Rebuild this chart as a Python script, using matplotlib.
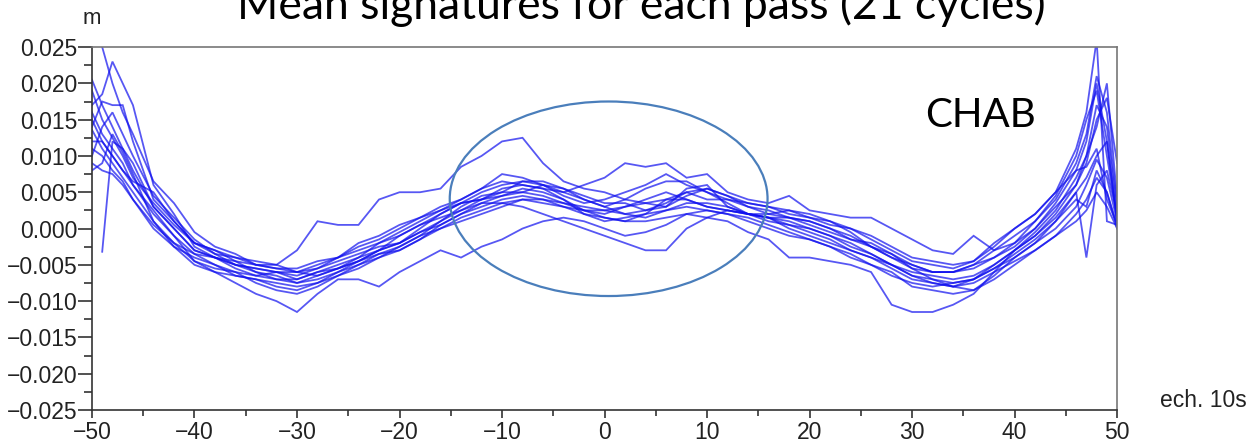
import numpy as np
import matplotlib
matplotlib.use("Agg")
import matplotlib.pyplot as plt
from matplotlib.patches import Ellipse
from matplotlib.ticker import MultipleLocator, FuncFormatter

# sample index (ech. 10s)
X = [-50, -49, -48, -47, -46,
     -44, -42, -40, -38, -36, -34, -32, -30, -28, -26, -24, -22, -20,
     -18, -16, -14, -12, -10, -8, -6, -4, -2, 0, 2, 4, 6,
     8, 10, 12, 14, 16, 18, 20, 22, 24, 26, 28, 30, 32,
     34, 36, 38, 40, 42, 44,
     46, 47, 48, 49, 50]

# mean signature of each pass, in mm
pass_01 = [20.5, 17, 14, 11, 8,
           3, 0, -3, -4, -5, -5.5, -6, -6.5, -5.5, -4, -3, -2, -1,
           0.5, 2, 3.5, 5, 6, 6.5, 6, 5, 4, 3, 2, 2.5, 3.5,
           5, 5.5, 4.5, 3, 2, 1.5, 1, 0, -1.5, -2.5, -4, -5, -6,
           -6, -5, -3, -1, 1, 4,
           9, 13, 21, 16, 3]
pass_02 = [13.6, 11, 9, 7, 5,
           1, -2, -4.5, -6, -7.5, -9, -10, -11.5, -9, -7, -7, -8, -6,
           -4.5, -3, -4, -2.5, -1.5, 0, 1, 1.5, 1, 0, -1, -0.5, 0.5,
           2, 2.5, 2, 1, 0, -1, -1.5, -2.5, -4, -5, -6.5, -7.5, -8,
           -7.5, -7, -5.5, -4, -2, 0,
           3, 6, 9.5, 7, 1]
pass_03 = [9, 8, 7.5, 6, 4,
           0.5, -2, -3.5, -4, -4.5, -5, -5, -3, 1, 0.5, 0.5, 4, 5,
           5, 5.5, 8.5, 10, 12, 12.5, 9, 6.5, 5.5, 5, 4, 3.5, 4,
           4, 3, 2.5, 2, 1.5, 1, 0, -1, -2.5, -3.5, -5, -6, -6.5,
           -7, -6.5, -5, -3, -1, 1.5,
           5, 7, 10, 12, 1]
pass_04 = [11, 10, 8, 6.5, 4,
           0, -2.5, -4, -5, -6, -6.5, -7, -7.5, -6.5, -5.5, -4, -3, -2,
           -0.5, 1, 2.5, 3.5, 3.5, 3, 2, 1, 0, -1, -2, -3, -3,
           0, 1.5, 2.5, 2, 1, 0.5, -0.5, -1.5, -3, -4, -5.5, -7, -7.5,
           -8, -7, -5.5, -3.5, -1.5, 1,
           4, 3, 8, 5, 0.5]
pass_05 = [16, 13, 11, 9, 6,
           2, -1, -3.5, -5, -6.5, -7, -8, -8.5, -7.5, -6, -5, -4, -3,
           -1.5, 0, 1.5, 2.5, 3.5, 4, 3.5, 3, 2, 1.5, 1, 1, 1.5,
           2, 1.5, 1, -0.5, -1.5, -4, -4, -4.5, -5, -6, -10.5, -11.5, -11.5,
           -10.5, -9, -6, -4.5, -3, -1,
           2, 4, 7, 5, 0]
pass_06 = [15, 12, 10, 8, 6.5,
           5, 1, -2, -3.5, -4, -5, -5.5, -6, -5, -4, -2.5, -1.5, 0,
           1.5, 3, 4, 5.5, 6.5, 6, 5.5, 5, 6, 7, 9, 8.5, 9,
           7, 7.5, 5, 4, 3.5, 4.5, 2.5, 2, 1.5, 1.5, 0, -1.5, -3,
           -3.5, -1, -3, -2, 0, 3,
           6, 10, 14, 20, 4]
pass_07 = [30, 25, 20, 16, 13,
           6.5, 3.5, -0.5, -2.5, -3.5, -5, -5.5, -5.5, -4.5, -4, -2, -1, 0.5,
           1.5, 2.5, 4, 5.5, 7.5, 7, 6, 4.5, 3.5, 4, 5, 6, 7.5,
           6, 5, 4, 3.5, 3, 2, 1.5, 0.5, 0, -1.5, -3, -4.5, -5,
           -5.5, -4.5, -2.5, 0, 2, 5,
           11, 16, 26, 1, 0.5]
pass_08 = [17, 18.5, 23, 20, 17,
           6, 2, -2.5, -4, -5, -5.5, -6, -6, -5.5, -4.5, -3.5, -2.5, -2,
           -0.5, 0.5, 2, 3, 4, 4.5, 4, 3.5, 3, 2.5, 3, 4, 5,
           4, 3, 2.5, 2, 1.5, 0.5, 0, -1, -2, -3.5, -5, -6.5, -7,
           -7.5, -7, -5, -3, -1, 2,
           6, 9, 15, 18, 9]
pass_09 = [14, 17.5, 17, 17, 12,
           4, 1, -2, -3, -4, -4.5, -5, -6, -6.5, -5.5, -4.5, -3.5, -3,
           -1.5, 0.5, 2, 3.5, 4.5, 5.5, 5, 4, 2.5, 2, 3, 3.5, 3,
           4.5, 5.5, 4.5, 3.5, 3, 2.5, 1.5, 1, 0, -1, -2.5, -4, -4.5,
           -5, -4.5, -2, 0, 2, 5,
           8, 12, 20, 12, 1]
pass_10 = [12, 12, 10, 8, 6,
           2.5, -1, -4.5, -5.5, -6, -7.5, -8.5, -9, -8, -6.5, -5, -3.5, -2.5,
           -1, 1, 3, 4.5, 5, 5, 4.5, 3.5, 2.5, 1.5, 1, 2, 4,
           5, 4, 4, 3, 2.5, 1.5, 1, 0, -1, -2.5, -4, -5.5, -7,
           -8, -8.5, -6.5, -4, -2, 1,
           5, -4, 6, 8, 2]
pass_11 = [19, 15, 12.5, 10, 7,
           3.5, 0.5, -2, -3, -4.5, -6, -7, -7, -6, -5, -4, -2, -0.5,
           1, 2.5, 3.5, 4, 4.5, 5, 6, 5.5, 4.5, 3.5, 3.5, 2.5, 3,
           5.5, 6, 3, 2, 1.5, 0, -1, -2, -3, -4, -5, -6.5, -7.5,
           -8, -7.5, -6, -3, -0.5, 2.5,
           7, 10, 17, 14, 2]
pass_12 = [np.nan, -3.2, 12, 11, 9,
           3, 0, -3, -4, -5.5, -6.5, -6, -7, -6, -5.5, -4.5, -3, -2,
           0, 2, 3.5, 4, 5.5, 6, 5.5, 4, 2, 1, 1.5, 2, 2.5,
           3.5, 3.5, 3, 2, 1.5, 1.5, 0.5, -0.5, -1.5, -2, -3.5, -5.5, -6,
           -6, -5, -4, -2.5, 0, 3.5,
           8, 8.5, 11, 4, 0.5]
pass_13 = [10, 14, 16, 13, 10,
           4.5, 1.5, -1.5, -3.5, -5, -6, -6.5, -7.5, -7, -6, -4.5, -3, -1,
           0.5, 1.5, 2.5, 4, 5, 6.5, 6.5, 5.5, 4, 3, 4, 5.5, 6.5,
           6.5, 5, 3.5, 2, 2, 2.5, 2, 1, -0.5, -2.5, -3.5, -5, -6,
           -6, -5.5, -4, -2, 1, 4.5,
           10, 15, 19, 10, 1.5]
pass_14 = [8, 9, 13, 10.5, 7.5,
           1, -2.5, -5, -6, -6.5, -7, -7.5, -8, -7.5, -6.5, -5.5, -4, -2.5,
           -1, 0, 1, 2, 3, 4, 4, 3, 2.5, 2.5, 2, 1.5, 2.5,
           3, 2.5, 2, 1.5, 0.5, -0.5, -1.5, -2.5, -3.5, -5, -6, -8, -8.5,
           -9, -8.5, -7, -5, -3, -1,
           1, 2.5, 5, 3, 0]

PASSES = [pass_01, pass_02, pass_03, pass_04, pass_05, pass_06, pass_07,
          pass_08, pass_09, pass_10, pass_11, pass_12, pass_13, pass_14]

# highlighted zone (data units)
ZONE_CENTER = (0.4, 0.0041)
ZONE_WIDTH = 31.0
ZONE_HEIGHT = 0.0268

TITLE = "Mean signatures for each pass (21 cycles)"
LABEL_FONT = ["Liberation Sans", "DejaVu Sans"]
SLIDE_FONT = ["Lato", "DejaVu Sans"]


def fmt_y(v, pos):
    s = f"{v:.3f}"
    if s == "-0.000":
        s = "0.000"
    return s.replace("-", "\u2212")


def fmt_x(v, pos):
    return f"{v:.0f}".replace("-", "\u2212")


fig = plt.figure(figsize=(12.51, 4.44), dpi=100)
ax = fig.add_axes([0.0735, 0.0766, 0.8195, 0.8174])

x = np.array(X, dtype=float)
for p in PASSES:
    ax.plot(x, np.array(p, dtype=float) * 1e-3, color="#1010ee", alpha=0.7,
            linewidth=1.3, solid_joinstyle="miter")

ax.add_patch(Ellipse(ZONE_CENTER, ZONE_WIDTH, ZONE_HEIGHT, fill=False,
                     edgecolor="#4a7ebb", linewidth=1.6, zorder=5))

ax.set_xlim(-50, 50)
ax.set_ylim(-0.025, 0.025)
ax.xaxis.set_major_locator(MultipleLocator(10))
ax.xaxis.set_minor_locator(MultipleLocator(5))
ax.yaxis.set_major_locator(MultipleLocator(0.005))
ax.yaxis.set_minor_locator(MultipleLocator(0.0025))
ax.yaxis.set_major_formatter(FuncFormatter(fmt_y))
ax.xaxis.set_major_formatter(FuncFormatter(fmt_x))

ax.tick_params(axis="y", which="major", length=10, width=1.1, pad=0.5,
               labelsize=16.5, colors="#222222")
ax.tick_params(axis="y", which="minor", length=6, width=1.1, colors="#222222")
ax.tick_params(axis="x", which="major", length=6, width=1.1, pad=2,
               labelsize=16.5, colors="#222222")
ax.tick_params(axis="x", which="minor", length=4, width=1.1, colors="#222222")
for lab in ax.get_xticklabels() + ax.get_yticklabels():
    lab.set_family(LABEL_FONT)

for side in ("left", "bottom"):
    ax.spines[side].set_color("#333333")
    ax.spines[side].set_linewidth(1.2)
for side in ("top", "right"):
    ax.spines[side].set_color("#777777")
    ax.spines[side].set_linewidth(1.2)

fig.text(92 / 1251, 1 - 19 / 444, "m", ha="center", va="center",
         fontsize=16, family=LABEL_FONT, color="#222222")
fig.text(1160 / 1251, 1 - 400 / 444, "ech. 10s", ha="left", va="center",
         fontsize=16.5, family=LABEL_FONT, color="#222222")
fig.text(925 / 1251, 1 - 127 / 444, "CHAB", ha="left", va="baseline",
         fontsize=29, family=SLIDE_FONT, color="black")
fig.text(641 / 1251, 1 - 19 / 444, TITLE, ha="center", va="baseline",
         fontsize=32, family=SLIDE_FONT, color="black")

fig.savefig("out.png", dpi=100)
